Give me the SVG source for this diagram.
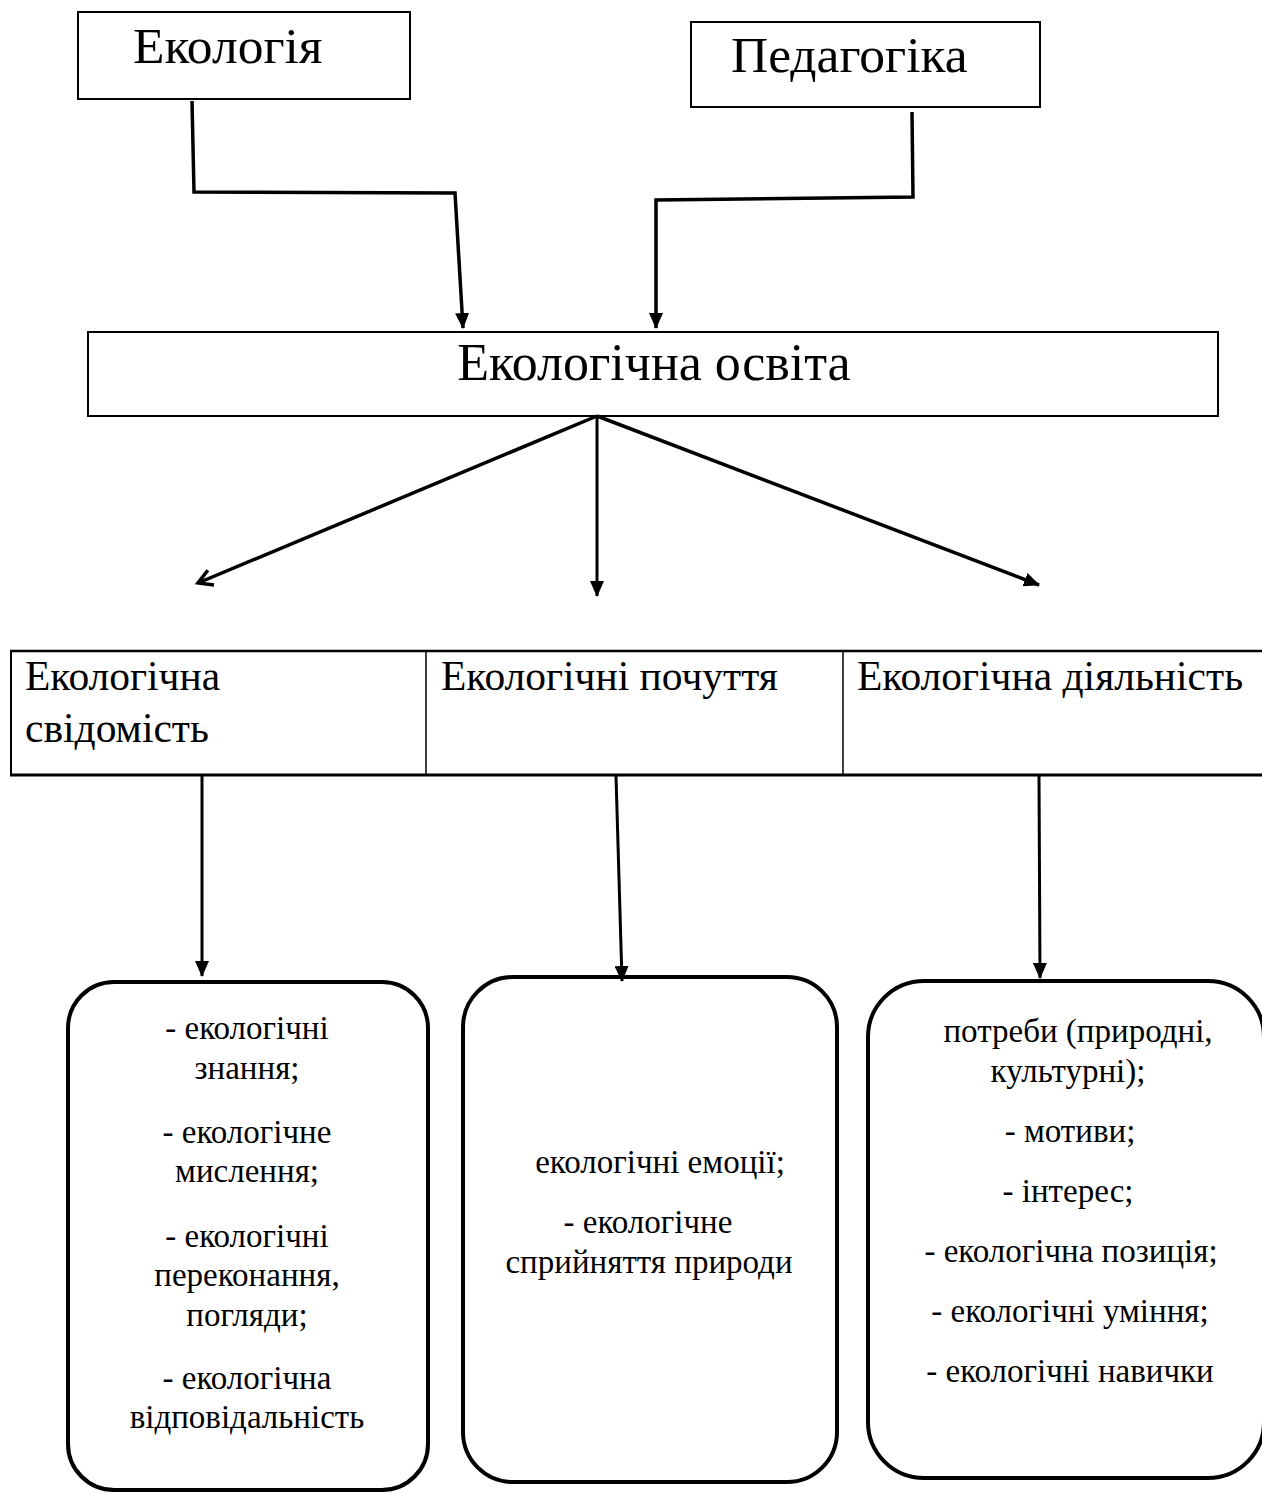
<svg xmlns="http://www.w3.org/2000/svg" width="1262" height="1495" viewBox="0 0 1262 1495">
<style>
text{font-family:"Liberation Serif","Times New Roman",serif;fill:#000}
.top{font-size:51.5px}
.main{font-size:52px}
.mid{font-size:41.5px}
.item{font-size:33px;text-anchor:middle}
.box{fill:#fff;stroke:#000;stroke-width:2}
.rbox{fill:#fff;stroke:#000;stroke-width:4}
.conn{fill:none;stroke:#000;stroke-width:3.5;stroke-linejoin:miter}
.thin{fill:none;stroke:#000;stroke-width:3}
</style>
<defs>
<marker id="ah" markerUnits="userSpaceOnUse" markerWidth="16" markerHeight="14" refX="15" refY="7" orient="auto">
<path d="M0,0 L16,7 L0,14 z" fill="#000"/>
</marker>
<marker id="ao" markerUnits="userSpaceOnUse" markerWidth="22" markerHeight="22" refX="17" refY="11" orient="auto">
<path d="M3,3 L17,11 L3,19" fill="none" stroke="#000" stroke-width="3.5"/>
</marker>
</defs>
<rect width="1262" height="1495" fill="#fff"/>

<g id="ecology">
<rect class="box" x="78" y="12" width="332" height="87"/>
<text class="top" x="133" y="63">Екологія</text>
</g>
<g id="pedagogy">
<rect class="box" x="691" y="22" width="349" height="85"/>
<text class="top" x="731" y="72">Педагогіка</text>
</g>
<g id="eco-education">
<rect class="box" x="88" y="332" width="1130" height="84"/>
<text class="main" x="654" y="380" text-anchor="middle">Екологічна освіта</text>
</g>

<g id="middle-row">
<line x1="10" y1="651" x2="1262" y2="651" stroke="#000" stroke-width="2.5"/>
<line x1="10" y1="775" x2="1262" y2="775" stroke="#000" stroke-width="3"/>
<line x1="11" y1="651" x2="11" y2="775" stroke="#000" stroke-width="2"/>
<line x1="426" y1="651" x2="426" y2="775" stroke="#000" stroke-width="1.5"/>
<line x1="843" y1="651" x2="843" y2="775" stroke="#000" stroke-width="1.5"/>
</g>
<g id="consciousness">
<text class="mid" x="25" y="690">Екологічна</text>
<text class="mid" x="25" y="742">свідомість</text>
</g>
<g id="feelings">
<text class="mid" x="441" y="690">Екологічні почуття</text>
</g>
<g id="activity">
<text class="mid" x="857" y="690">Екологічна діяльність</text>
</g>

<g id="box-consciousness">
<rect class="rbox" x="68" y="982" width="360" height="508" rx="46"/>
<text class="item" x="247" y="1039">- екологічні</text>
<text class="item" x="247" y="1079">знання;</text>
<text class="item" x="247" y="1143">- екологічне</text>
<text class="item" x="247" y="1182">мислення;</text>
<text class="item" x="247" y="1247">- екологічні</text>
<text class="item" x="247" y="1286">переконання,</text>
<text class="item" x="247" y="1326">погляди;</text>
<text class="item" x="247" y="1389">- екологічна</text>
<text class="item" x="247" y="1428">відповідальність</text>
</g>
<g id="box-feelings">
<rect class="rbox" x="463" y="977" width="374" height="505" rx="50"/>
<text class="item" x="660" y="1173">екологічні емоції;</text>
<text class="item" x="648" y="1233">- екологічне</text>
<text class="item" x="649" y="1273">сприйняття природи</text>
</g>
<g id="box-activity">
<rect class="rbox" x="868" y="981" width="396" height="497" rx="56"/>
<text class="item" x="1078" y="1042">потреби (природні,</text>
<text class="item" x="1068" y="1082">культурні);</text>
<text class="item" x="1070" y="1142">- мотиви;</text>
<text class="item" x="1068" y="1202">- інтерес;</text>
<text class="item" x="1071" y="1262">- екологічна позиція;</text>
<text class="item" x="1070" y="1322">- екологічні уміння;</text>
<text class="item" x="1070" y="1382">- екологічні навички</text>
</g>

<g id="connectors">
<polyline class="conn" points="192,101 194,192 455,193 463,328" marker-end="url(#ah)"/>
<polyline class="conn" points="912,112 913,197 656,200 656,328" marker-end="url(#ah)"/>
<line class="conn" x1="597" y1="416" x2="198" y2="583" marker-end="url(#ao)"/>
<line class="thin" x1="597" y1="416" x2="597" y2="596" marker-end="url(#ah)"/>
<line class="conn" x1="597" y1="416" x2="1039" y2="585" marker-end="url(#ah)"/>
<line class="thin" x1="202" y1="776" x2="202" y2="976" marker-end="url(#ah)"/>
<line class="thin" x1="616" y1="776" x2="622" y2="981" marker-end="url(#ah)"/>
<line class="thin" x1="1039" y1="776" x2="1040" y2="978" marker-end="url(#ah)"/>
</g>
</svg>
